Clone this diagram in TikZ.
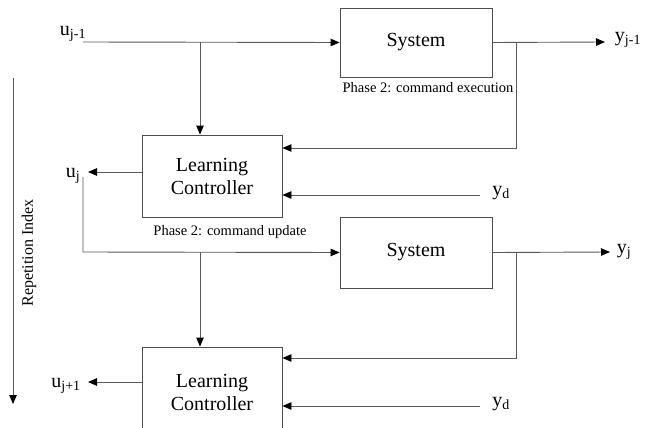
\documentclass[tikz,border=0pt]{standalone}
\usepackage{fontspec}
\setmainfont{Liberation Serif}
\usetikzlibrary{arrows.meta}
\begin{document}
\begin{tikzpicture}[x=1pt,y=-1pt,
  blk/.style={draw=black!70,line width=0.9pt,inner sep=0pt,font=\fontsize{20}{23}\selectfont,align=center},
  lbl/.style={inner sep=0pt,font=\fontsize{20}{22}\selectfont},
  phs/.style={inner sep=0pt,font=\fontsize{14.5}{16}\selectfont},
  wire/.style={draw=black!65,line width=0.9pt},
  arr/.style={wire,-{Triangle[length=9pt,width=7.5pt,color=black,fill=black]}}]
\useasboundingbox (0,0) rectangle (645,428);
\clip (0,0) rectangle (645,428);
% blocks
\node[blk,minimum width=152pt,minimum height=69pt] (sys1) at (416,42.5) {System};
\node[blk,minimum width=140pt,minimum height=82pt] (lc1) at (212,176) {Learning\\Controller};
\node[blk,minimum width=152pt,minimum height=71pt] (sys2) at (416,252.5) {System};
\node[blk,minimum width=140pt,minimum height=90pt] (lc2) at (212,392) {Learning\\Controller};
% labels
\node[lbl] (ujm1) at (73,34) {u\textsubscript{j-1}};
\node[lbl] (yjm1) at (628,40) {y\textsubscript{j-1}};
\node[lbl] (uj) at (73,176) {u\textsubscript{j}};
\node[lbl] (yd1) at (501,193) {y\textsubscript{d}};
\node[lbl] (yj) at (624,252) {y\textsubscript{j}};
\node[lbl] (yd2) at (501,404) {y\textsubscript{d}};
\node[lbl] (ujp1) at (66,386) {u\textsubscript{j+1}};
\node[phs] (ph1) at (428,88) {Phase 2: command execution};
\node[phs] (ph2) at (230,232) {Phase 2: command update};
\node[phs,rotate=90,font=\fontsize{16}{18}\selectfont] (rep) at (29,253) {Repetition Index};
% coordinates
\coordinate (a0) at (83,42);
\coordinate (b1) at (200,42);
\coordinate (o1) at (605,42);
\coordinate (f1) at (516,42);
\coordinate (f1b) at (516,148);
\coordinate (d1) at (480,195);
\coordinate (uo) at (88,172);
\coordinate (ut) at (83,177);
\coordinate (uc) at (83,252);
\coordinate (b2) at (200,252);
\coordinate (o2) at (610,252);
\coordinate (f2) at (516,252);
\coordinate (f2b) at (516,358);
\coordinate (d2) at (480,406);
\coordinate (uo2) at (88,382);
\coordinate (r0) at (13,78);
\coordinate (r1) at (13,404);
% connectors
\draw[arr] (a0) -- (sys1.west);
\draw[arr] (b1) -- (b1 |- lc1.north);
\draw[arr] (sys1.east) -- (o1);
\draw[arr] (f1) -- (f1b) -- (f1b -| lc1.east);
\draw[arr] (d1) -- (d1 -| lc1.east);
\draw[arr] (lc1.west |- uo) -- (uo);
\draw[arr] (ut) -- (uc) -- (sys2.west);
\draw[arr] (b2) -- (b2 |- lc2.north);
\draw[arr] (sys2.east) -- (o2);
\draw[arr] (f2) -- (f2b) -- (f2b -| lc2.east);
\draw[arr] (d2) -- (d2 -| lc2.east);
\draw[arr] (lc2.west |- uo2) -- (uo2);
\draw[arr] (r0) -- (r1);
\end{tikzpicture}
\end{document}
